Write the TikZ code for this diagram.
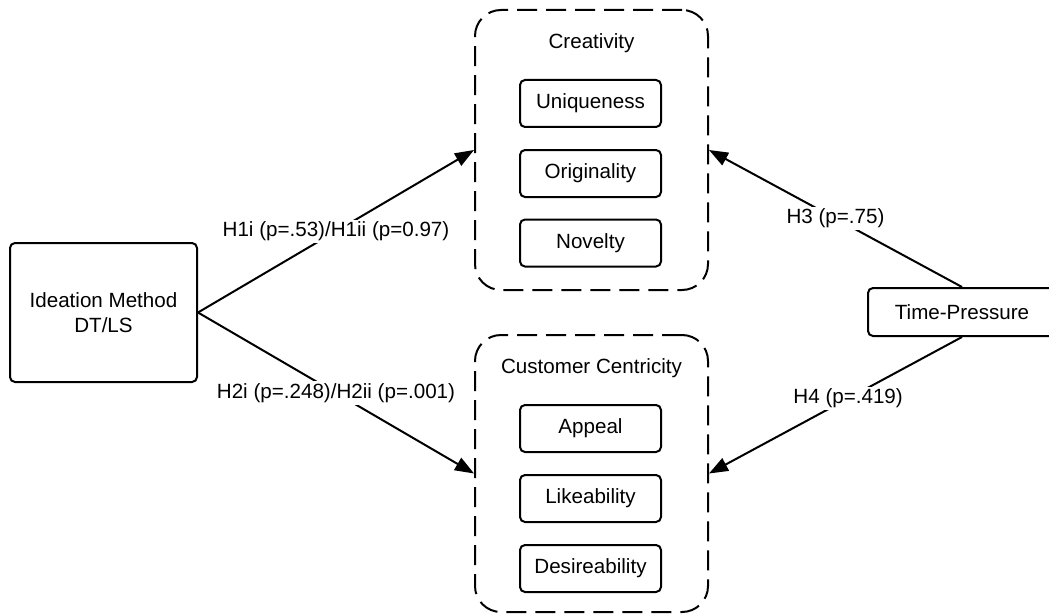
\documentclass[tikz,border=0pt]{standalone}
\usepackage{fontspec}
\setmainfont{Liberation Sans}
\usetikzlibrary{arrows.meta}

\begin{document}
\begin{tikzpicture}[x=1pt, y=-1pt,
        every node/.style={font=\fontsize{20.6}{24.5}\selectfont},
        box/.style={draw, line width=2pt, rounded corners=5pt, align=center},
        item/.style={box, minimum width=141pt, minimum height=47pt},
        group/.style={draw, line width=2pt, dash pattern=on 20pt off 9pt, rounded corners=26pt,
            minimum width=233pt},
        hyp/.style={line width=2pt, -{Triangle[length=19pt,width=14pt]}},
        plabel/.style={fill=white, inner sep=2pt}]
    \useasboundingbox (0,0) rectangle (1049,615);

    % Groups of measures
    \node[group, minimum height=280pt] (creat) at (591.5,150) {};
    \node[group, minimum height=277pt] (cust) at (591.5,473.5) {};
    \node (creattitle) at (591.5,43) {Creativity};
    \node (custtitle) at (591.5,368) {Customer Centricity};

    % Measures inside the groups
    \node[item] (uniq) at (590.5,103.5) {Uniqueness};
    \node[item] (orig) at (590.5,173.5) {Originality};
    \node[item] (nov) at (590.5,243) {Novelty};
    \node[item] (appeal) at (590.5,428.5) {Appeal};
    \node[item] (like) at (590.5,498.5) {Likeability};
    \node[item] (desire) at (590.5,568.5) {Desireability};

    % Independent variable and moderator
    \node[box, minimum width=187pt, minimum height=139pt] (method) at (103.5,312.5) {Ideation Method\\DT/LS};
    \node[box, minimum width=188pt, minimum height=48pt] (time) at (962,312) {Time-Pressure};

    % Hypotheses
    \draw[hyp] (method.east) -- node[plabel, pos=0.5] {H1i (p=.53)/H1ii (p=0.97)} (creat.west);
    \draw[hyp] (method.east) -- node[plabel, pos=0.5] {H2i (p=.248)/H2ii (p=.001)} (cust.west);
    \draw[hyp] (time.north) -- node[plabel, pos=0.5] {H3 (p=.75)} (creat.east);
    \draw[hyp] (time.south) -- node[plabel, pos=0.45] {H4 (p=.419)} (cust.east);
\end{tikzpicture}
\end{document}
